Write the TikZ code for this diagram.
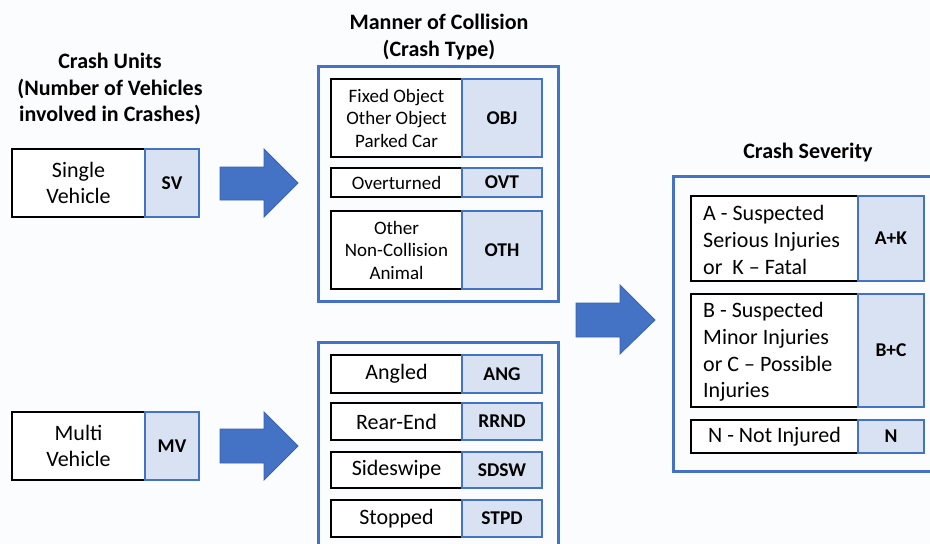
\documentclass[tikz,border=0pt]{standalone}
\usepackage{fontspec}
\setmainfont{Carlito}
\definecolor{obl}{HTML}{4472C4}
\definecolor{lbl}{HTML}{D9E2F3}
\definecolor{adk}{HTML}{3A63AD}
\definecolor{bgc}{HTML}{FBFCFE}
\begin{document}
\begin{tikzpicture}[x=1pt,y=-1pt,
  wbox/.style={draw=black,line width=2.6pt,fill=white,inner sep=0pt,align=center},
  bbox/.style={draw=obl,line width=2pt,fill=lbl,inner sep=0pt,align=center,font=\fontsize{19.5}{22}\selectfont\bfseries},
  frame/.style={draw=obl,line width=3pt},
  bigarrow/.style={fill=obl,draw=adk,line width=0.8pt,line join=miter},
  ttl/.style={align=center,font=\fontsize{22}{26.5}\selectfont\bfseries},
  big/.style={font=\fontsize{22}{26}\selectfont},
  rtxt/.style={align=left,inner sep=0pt,font=\fontsize{22}{26.7}\selectfont},
  mid/.style={font=\fontsize{19}{22.5}\selectfont}]
\useasboundingbox[fill=bgc] (0,0) rectangle (930,544);
\begin{scope}
\clip (0,0) rectangle (930,544);
% titles
\node[ttl] (t1) at (110,89) {Crash Units\\(Number of Vehicles\\involved in Crashes)};
\node[ttl] (t2) at (439,37) {Manner of Collision\\(Crash Type)};
\node[ttl,anchor=base] (t3) at (808,158) {Crash Severity};
% left boxes
\node[wbox,big,minimum width=133,minimum height=68] (sv) at (78.5,183) {Single\\Vehicle};
\node[bbox,minimum width=54,minimum height=68] (svl) at (172,183) {SV};
\node[wbox,big,minimum width=133,minimum height=68] (mv) at (78.5,446) {Multi\\Vehicle};
\node[bbox,minimum width=54,minimum height=68] (mvl) at (172,446) {MV};
% arrows
\draw[bigarrow] (220,167) -- (264,167) -- (264,149) -- (298,183) -- (264,217) -- (264,200) -- (220,200) -- cycle;
\draw[bigarrow] (220,429) -- (264,429) -- (264,412) -- (298,446) -- (264,480) -- (264,463) -- (220,463) -- cycle;
\draw[bigarrow] (576,303) -- (620,303) -- (620,285) -- (655,320) -- (620,354) -- (620,337) -- (576,337) -- cycle;
% middle containers
\draw[frame] (318,66) rectangle (558,301);
\draw[frame] (318,342) rectangle (558,552);
\node[wbox,mid,minimum width=131,minimum height=78] (obj) at (396.5,118) {Fixed Object\\Other Object\\Parked Car};
\node[bbox,minimum width=80,minimum height=78] (objl) at (502,118) {OBJ};
\node[wbox,mid,minimum width=131,minimum height=29] (ovt) at (396.5,182.5) {Overturned};
\node[bbox,minimum width=80,minimum height=29] (ovtl) at (502,182.5) {OVT};
\node[wbox,mid,minimum width=131,minimum height=78] (oth) at (396.5,250) {Other\\Non-Collision\\Animal};
\node[bbox,minimum width=80,minimum height=78] (othl) at (502,250) {OTH};
\node[wbox,big,minimum width=131,minimum height=38] (ang) at (396.5,374) {Angled};
\node[bbox,minimum width=80,minimum height=38] (angl) at (502,374) {ANG};
\node[wbox,big,minimum width=131,minimum height=37] (rrnd) at (396.5,421.5) {Rear-End};
\node[bbox,minimum width=80,minimum height=37] (rrndl) at (502,421.5) {RRND};
\node[wbox,big,minimum width=131,minimum height=36] (sdsw) at (396.5,470) {Sideswipe};
\node[bbox,minimum width=80,minimum height=36] (sdswl) at (502,470) {SDSW};
\node[wbox,big,minimum width=131,minimum height=37] (stpd) at (396.5,518.5) {Stopped};
\node[bbox,minimum width=80,minimum height=37] (stpdl) at (502,518.5) {STPD};
% right container
\draw[frame] (673,176) rectangle (940,471);
\node[wbox,minimum width=167,minimum height=85] (ak) at (774.5,238.5) {};
\node[rtxt,anchor=west] (akt) at (703,240) {A - Suspected\\Serious Injuries\\or\ \ K -- Fatal};
\node[bbox,minimum width=66,minimum height=85] (akl) at (891,238.5) {A+K};
\node[wbox,minimum width=167,minimum height=113] (bc) at (774.5,350.5) {};
\node[rtxt,anchor=west] (bct) at (703,352) {B - Suspected\\Minor Injuries\\or C -- Possible\\Injuries};
\node[bbox,minimum width=66,minimum height=113] (bcl) at (891,350.5) {B+C};
\node[wbox,big,minimum width=167,minimum height=33] (n) at (774.5,436.5) {N - Not Injured};
\node[bbox,minimum width=66,minimum height=33] (nl) at (891,436.5) {N};
\end{scope}
\end{tikzpicture}
\end{document}
